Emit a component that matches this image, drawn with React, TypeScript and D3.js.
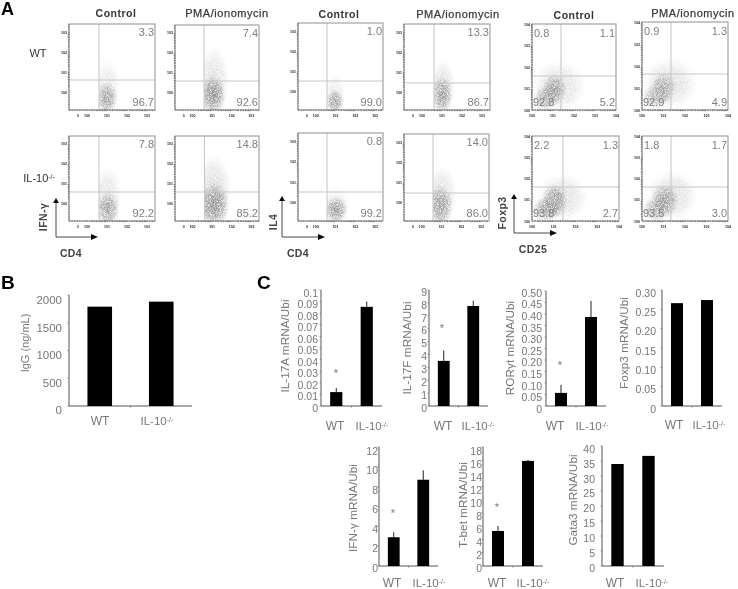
import React from "react";
import * as d3 from "d3";

// ---------- data ----------
const genotypes = ["WT", "IL-10-/-"];

const iggValues = [1790, 1880];
const iggTicks = [0, 500, 1000, 1500, 2000];

const il17aValues = [0.012, 0.0855];
const il17aErrors = [0.0035, 0.0045];
const il17aTicks = [0, 0.01, 0.02, 0.03, 0.04, 0.05, 0.06, 0.07, 0.08, 0.09, 0.1];
const il17aLabels = ["0", "0.01", "0.02", "0.03", "0.04", "0.05", "0.06", "0.07", "0.08", "0.09", "0.1"];

const il17fValues = [3.5, 7.76];
const il17fErrors = [0.8, 0.4];
const il17fTicks = [0, 1, 2, 3, 4, 5, 6, 7, 8, 9];

const rorValues = [0.057, 0.387];
const rorErrors = [0.035, 0.07];
const rorTicks = [0, 0.05, 0.1, 0.15, 0.2, 0.25, 0.3, 0.35, 0.4, 0.45, 0.5];
const rorLabels = ["0", "0.05", "0.10", "0.15", "0.20", "0.25", "0.30", "0.35", "0.40", "0.45", "0.50"];

const foxp3Values = [0.266, 0.274];
const foxp3Errors = [0, 0];
const foxp3Ticks = [0, 0.05, 0.1, 0.15, 0.2, 0.25, 0.3];
const foxp3Labels = ["0", "0.05", "0.10", "0.15", "0.20", "0.25", "0.30"];

const ifngValues = [2.9, 8.7];
const ifngErrors = [0.5, 0.95];
const ifngTicks = [0, 2, 4, 6, 8, 10, 12];

const tbetValues = [5.3, 15.9];
const tbetErrors = [0.75, 0.15];
const tbetTicks = [0, 2, 4, 6, 8, 10, 12, 14, 16, 18];

const gata3Values = [34, 36.7];
const gata3Errors = [0, 0];
const gata3Ticks = [0, 5, 10, 15, 20, 25, 30, 35, 40];

// flow plots: quadrant percentages [top-left, top-right, bottom-left, bottom-right]; "" = not shown
const flowPercents = [
  ["", "3.3", "", "96.7"], ["", "7.4", "", "92.6"], ["", "1.0", "", "99.0"], ["", "13.3", "", "86.7"],
  ["0.8", "1.1", "92.8", "5.2"], ["0.9", "1.3", "92.9", "4.9"],
  ["", "7.8", "", "92.2"], ["", "14.8", "", "85.2"], ["", "0.8", "", "99.2"], ["", "14.0", "", "86.0"],
  ["2.2", "1.3", "93.8", "2.7"], ["1.8", "1.7", "93.5", "3.0"],
];

// density blobs: [x, y, rx, ry, strength] on a 0-4 plot scale
const flowDensity: number[][][] = [
  [[1.75, 0.55, 0.5, 0.75, 0.8], [1.8, 1.0, 0.6, 1.4, 0.25]],
  [[1.8, 0.7, 0.62, 0.95, 1], [1.85, 1.4, 0.75, 1.6, 0.3]],
  [[1.74, 0.4, 0.42, 0.55, 0.85], [1.75, 0.7, 0.5, 1.0, 0.2]],
  [[1.77, 0.7, 0.5, 0.9, 0.85], [1.8, 1.1, 0.6, 1.3, 0.3]],
  [[0.65, 0.55, 0.6, 0.6, 0.7], [1.05, 0.95, 0.6, 0.75, 0.85], [1.3, 1.1, 1.3, 1.2, 0.3]],
  [[0.6, 0.6, 0.6, 0.6, 0.6], [1.0, 1.0, 0.6, 0.75, 0.7], [1.3, 1.2, 1.3, 1.2, 0.3]],
  [[1.8, 0.55, 0.55, 0.8, 0.8], [1.8, 1.1, 0.65, 1.5, 0.28]],
  [[1.85, 0.75, 0.75, 1.05, 1], [1.85, 1.4, 0.85, 1.8, 0.35]],
  [[1.78, 0.5, 0.55, 0.62, 0.9], [1.8, 0.7, 0.65, 0.9, 0.2]],
  [[1.7, 0.7, 0.6, 1.0, 0.85], [1.75, 1.2, 0.75, 1.4, 0.3]],
  [[0.65, 0.55, 0.65, 0.6, 0.8], [1.05, 0.95, 0.6, 0.8, 0.9], [1.4, 1.1, 1.2, 1.15, 0.3]],
  [[0.65, 0.55, 0.65, 0.6, 0.7], [1.05, 0.95, 0.65, 0.8, 0.85], [1.4, 1.2, 1.2, 1.2, 0.32]],
];

const flowTickValues = [0, 1, 2, 3, 4];
const flowMinor = [2, 3, 4, 5, 6, 7, 8, 9];
const flowHeadings = ["Control", "PMA/ionomycin"];

// ---------- layout ----------
// left, right, top, bottom, vertical gate, horizontal gate, CD4-style axis
const flowBoxes: [number, number, number, number, number, number, boolean][] = [
  [69, 155, 24, 110, 99, 80, true],
  [175, 259, 25, 110, 204, 81, true],
  [298, 383, 23, 110, 327, 81, true],
  [404, 490, 24, 110, 434, 83, true],
  [532, 616, 24, 110, 561, 76, false],
  [642, 728, 22, 110, 671, 74, false],
  [69, 155, 136, 221, 99, 192, true],
  [175, 259, 136, 221, 204.5, 192, true],
  [298, 383, 133, 221, 327, 192, true],
  [404, 489, 134, 221, 433, 193, true],
  [532, 619, 136, 221, 563, 187, false],
  [642, 728, 136, 221, 671, 187, false],
];
const headingPlaces: [number, number, number][] = [
  [0, 116, 17], [1, 227, 17], [0, 339, 18], [1, 458, 18], [0, 574, 19], [1, 693, 17],
];
const INK = "#777";
const SANS = "'Liberation Sans', Arial, sans-serif";

type BarSpec = {
  title: string; values: number[]; errors: number[]; ticks: number[]; tickLabels?: string[];
  max: number; axisX: number; xEnd: number; top: number; y0: number;
  labelTop: number; labelBottom: number; labelRight: number;
  titleX: number; titleY: number; wtX: number; koX: number; catY: number;
  star?: [number, number]; gs?: number; tickFs?: number;
};

const barCharts: BarSpec[] = [
  { title: "IgG (ng/mL)", values: iggValues, errors: [0, 0], ticks: iggTicks, max: 2000, axisX: 69, xEnd: 192, top: 295, y0: 406,
    labelTop: 300, labelBottom: 410, labelRight: 62, titleX: 25, titleY: 343, wtX: 100, koX: 157, catY: 425, gs: 11, tickFs: 11.5 },
  { title: "IL-17A mRNA/Ubi", values: il17aValues, errors: il17aErrors, ticks: il17aTicks, tickLabels: il17aLabels, max: 0.1, axisX: 321, xEnd: 382, top: 290, y0: 406,
    labelTop: 293, labelBottom: 408, labelRight: 318, titleX: 285, titleY: 346, wtX: 335, koX: 372, catY: 430, star: [336, 377] },
  { title: "IL-17F mRNA/Ubi", values: il17fValues, errors: il17fErrors, ticks: il17fTicks, max: 9, axisX: 429, xEnd: 488, top: 290, y0: 406,
    labelTop: 292, labelBottom: 408, labelRight: 427, titleX: 407, titleY: 348, wtX: 443, koX: 478, catY: 430, star: [442, 332] },
  { title: "RORγt mRNA/Ubi", values: rorValues, errors: rorErrors, ticks: rorTicks, tickLabels: rorLabels, max: 0.5, axisX: 546, xEnd: 606, top: 291, y0: 406,
    labelTop: 293, labelBottom: 409, labelRight: 542, titleX: 510, titleY: 348, wtX: 555, koX: 592, catY: 430, star: [560, 369] },
  { title: "Foxp3 mRNA/Ubi", values: foxp3Values, errors: foxp3Errors, ticks: foxp3Ticks, tickLabels: foxp3Labels, max: 0.3, axisX: 662, xEnd: 722, top: 290, y0: 406,
    labelTop: 293, labelBottom: 409, labelRight: 656, titleX: 624, titleY: 343, wtX: 674, koX: 709, catY: 429 },
  { title: "IFN-γ mRNA/Ubi", values: ifngValues, errors: ifngErrors, ticks: ifngTicks, max: 12, axisX: 379, xEnd: 438, top: 447, y0: 566,
    labelTop: 451, labelBottom: 568, labelRight: 378, titleX: 353, titleY: 508, wtX: 392, koX: 429, catY: 587, star: [393, 517] },
  { title: "T-bet mRNA/Ubi", values: tbetValues, errors: tbetErrors, ticks: tbetTicks, max: 18, axisX: 483, xEnd: 543, top: 447, y0: 566,
    labelTop: 451, labelBottom: 568, labelRight: 482, titleX: 463, titleY: 505, wtX: 497, koX: 533, catY: 587, star: [497, 511] },
  { title: "Gata3 mRNA/Ubi", values: gata3Values, errors: gata3Errors, ticks: gata3Ticks, max: 40, axisX: 602, xEnd: 664, top: 446, y0: 566,
    labelTop: 449, labelBottom: 568, labelRight: 595, titleX: 573, titleY: 500, wtX: 615, koX: 652, catY: 587 },
];

function Genotype({ x, y, label, fs, fill = INK }: { x: number; y: number; label: string; fs: number; fill?: string }) {
  if (label === "WT") return <text x={x} y={y} fontSize={fs} textAnchor="middle" fill={fill}>WT</text>;
  return (
    <text x={x} y={y} fontSize={fs} textAnchor="middle" fill={fill}>
      IL-10<tspan dy={-3.5} fontSize={fs * 0.62}>-/-</tspan>
    </text>
  );
}

function BarChart({ s }: { s: BarSpec }) {
  const y = d3.scaleLinear().domain([0, s.max]).range([s.y0, s.top]);
  const yl = d3.scaleLinear().domain([0, s.max]).range([s.labelBottom, s.labelTop]);
  const x = d3.scaleBand<string>().domain(genotypes).range([s.axisX, s.xEnd]).paddingInner(0.6).paddingOuter(0.3);
  const fs = s.tickFs ?? 10.5;
  const gapX = (x(genotypes[1])! + x(genotypes[0])! + x.bandwidth()) / 2;
  return (
    <g>
      {s.ticks.map((t, i) => (
        <g key={t}>
          <line x1={s.axisX - 1.5} x2={s.axisX} y1={y(t)} y2={y(t)} stroke="#777" strokeWidth={0.7} />
          <text x={s.labelRight} y={yl(t) + fs * 0.36} fontSize={fs} textAnchor="end" fill={INK}>
            {s.tickLabels ? s.tickLabels[i] : String(t)}
          </text>
        </g>
      ))}
      <line x1={s.axisX} x2={s.axisX} y1={s.top} y2={s.y0} stroke="#555" strokeWidth={1} />
      <line x1={s.axisX} x2={s.xEnd} y1={s.y0} y2={s.y0} stroke="#555" strokeWidth={1} />
      <line x1={gapX} x2={gapX} y1={s.y0} y2={s.y0 + 1.5} stroke="#555" strokeWidth={0.7} />
      {genotypes.map((g, i) => {
        const cx = x(g)! + x.bandwidth() / 2;
        return (
          <g key={g}>
            {s.errors[i] > 0 && (
              <line x1={cx} x2={cx} y1={y(s.values[i])} y2={y(s.values[i] + s.errors[i])} stroke="#222" strokeWidth={1} />
            )}
            <rect x={x(g)!} y={y(s.values[i])} width={x.bandwidth()} height={s.y0 - y(s.values[i])} fill="#000" />
            <Genotype x={i === 0 ? s.wtX : s.koX} y={s.catY} label={g} fs={i === 0 ? 12 : 11.5} />
          </g>
        );
      })}
      <text transform={`translate(${s.titleX},${s.titleY}) rotate(-90)`} textAnchor="middle" fontSize={s.gs ?? 11.8} fill={INK} dy={4}>
        {s.title}
      </text>
      {s.star && <text x={s.star[0]} y={s.star[1]} fontSize={11} textAnchor="middle" fill={INK}>*</text>}
    </g>
  );
}

function FlowPlot({ index }: { index: number }) {
  const [l, r, t, b, vg, hg, cd4] = flowBoxes[index];
  const tickDomain = cd4 ? [-0.9, 3.4] : [0, 4];
  const xT = d3.scaleLinear().domain(tickDomain).range([l, r]);
  const yT = d3.scaleLinear().domain(tickDomain).range([b, t]);
  const xC = d3.scaleLinear().domain([0, 4]).range([l, r]);
  const yC = d3.scaleLinear().domain([0, 4]).range([b, t]);
  const ticks = cd4 ? flowTickValues.slice(0, 4) : flowTickValues;
  const minors = ticks.flatMap((k) => flowMinor.map((m) => k + Math.log10(m))).filter((v) => v <= tickDomain[1]);
  const [tl, tr, bl, br] = flowPercents[index];
  const clipLeft = cd4 ? vg : l;
  const num = { fontSize: 11, fill: "#808080" };
  return (
    <g>
      <clipPath id={`flow-${index}`}><rect x={clipLeft} y={t} width={r - clipLeft} height={b - t} /></clipPath>
      <g clipPath={`url(#flow-${index})`}>
        <g filter="url(#speckle)">
          {flowDensity[index].map((d, i) => (
            <ellipse key={i} cx={xC(d[0])} cy={yC(d[1])} rx={xC(d[2]) - l} ry={b - yC(d[3])} fill="url(#cloud)" opacity={d[4]} />
          ))}
        </g>
      </g>
      <line x1={vg} x2={vg} y1={t} y2={b} stroke="#c8c8c8" strokeWidth={1.1} />
      <line x1={l} x2={r} y1={hg} y2={hg} stroke="#c8c8c8" strokeWidth={1.1} />
      <rect x={l} y={t} width={r - l} height={b - t} fill="none" stroke="#9a9a9a" strokeWidth={1.1} />
      <line x1={l} x2={r} y1={b} y2={b} stroke="#444" strokeWidth={0.7} strokeDasharray="1.5 1" />
      <line x1={l} x2={l} y1={t} y2={b} stroke="#444" strokeWidth={0.7} strokeDasharray="1.5 1" />
      {minors.map((v) => (
        <g key={v}>
          <line x1={xT(v)} x2={xT(v)} y1={b} y2={b + 1.2} stroke="#555" strokeWidth={0.5} />
          <line x1={l - 1.2} x2={l} y1={yT(v)} y2={yT(v)} stroke="#555" strokeWidth={0.5} />
        </g>
      ))}
      {ticks.map((v) => (
        <g key={v} fill="#222" fontSize={3.5} fontWeight="bold">
          <text x={xT(v)} y={b + 7} textAnchor="middle">10{v}</text>
          <text x={l - 5} y={yT(v) + 1.5} textAnchor="middle">10{v}</text>
        </g>
      ))}
      {cd4 && <text x={xT(-0.45)} y={b + 7} textAnchor="middle" fill="#222" fontSize={3.5} fontWeight="bold">0</text>}
      {tl && <text x={l + 2} y={t + 13} {...num}>{tl}</text>}
      {tr && <text x={r - 1} y={t + (cd4 ? 12 : 13)} textAnchor="end" {...num}>{tr}</text>}
      {bl && <text x={l + 1} y={b - 4} {...num}>{bl}</text>}
      {br && <text x={r - 1} y={b - 4} textAnchor="end" {...num}>{br}</text>}
    </g>
  );
}

function Arrows({ x, top, bottom, right }: { x: number; top: number; bottom: number; right: number }) {
  return (
    <g>
      <path d={`M${x},${top + 4}V${bottom}H${right - 6}`} fill="none" stroke="#333" strokeWidth={0.9} />
      <path d={`M${x - 3},${top + 5}L${x},${top}L${x + 3},${top + 5}Z`} fill="#111" />
      <path d={`M${right - 7},${bottom - 3}L${right},${bottom}L${right - 7},${bottom + 3}Z`} fill="#111" />
    </g>
  );
}

export default function App() {
  const axisLabel = { fontSize: 10.5, fontWeight: "bold" as const, fill: "#444", letterSpacing: 0.4 };
  return (
    <svg width={738} height={589} viewBox="0 0 738 589" style={{ position: "absolute", left: 0, top: 0, background: "#fff" }} fontFamily={SANS}>
      <defs>
        <radialGradient id="cloud">
          <stop offset="0%" stopColor="#777" stopOpacity={0.85} />
          <stop offset="60%" stopColor="#888" stopOpacity={0.6} />
          <stop offset="100%" stopColor="#aaa" stopOpacity={0} />
        </radialGradient>
        <filter id="speckle" x="-10%" y="-10%" width="120%" height="120%">
          <feTurbulence type="fractalNoise" baseFrequency="1.3" numOctaves={1} seed={4} result="n" />
          <feColorMatrix in="n" type="matrix" values="0 0 0 0 0  0 0 0 0 0  0 0 0 0 0  0 0 0 2.6 -0.55" result="m" />
          <feComposite in="SourceGraphic" in2="m" operator="in" />
        </filter>
        <filter id="soft" x="0" y="0" width="100%" height="100%"><feGaussianBlur stdDeviation={0.35} /></filter>
      </defs>
      <g filter="url(#soft)">
        <rect width={738} height={589} fill="#fff" />
        <text x={1} y={15} fontSize={18} fontWeight="bold" fill="#000">A</text>
        <text x={1} y={289} fontSize={19} fontWeight="bold" fill="#000">B</text>
        <text x={257} y={289} fontSize={19} fontWeight="bold" fill="#000">C</text>

        {headingPlaces.map(([h, x, y], i) => (
          <text key={i} x={x} y={y} textAnchor="middle" fontSize={h === 0 ? 10.5 : 11} letterSpacing={h === 0 ? 0.5 : 0.55}
            fontWeight={h === 0 ? "bold" : "normal"} stroke={h === 1 ? "#444" : "none"} strokeWidth={h === 1 ? 0.25 : 0} fill="#333">
            {flowHeadings[h]}
          </text>
        ))}
        <Genotype x={38} y={57} label="WT" fs={11} fill="#333" />
        <Genotype x={39} y={182} label="IL-10-/-" fs={11} fill="#333" />

        {flowBoxes.map((_, i) => <FlowPlot key={i} index={i} />)}

        <Arrows x={56} top={198} bottom={237} right={98} />
        <Arrows x={282} top={196} bottom={237} right={325} />
        <Arrows x={514} top={194} bottom={233} right={557} />
        <text transform="translate(47,217) rotate(-90)" textAnchor="middle" {...axisLabel}>IFN-γ</text>
        <text transform="translate(277,222) rotate(-90)" textAnchor="middle" {...axisLabel}>IL4</text>
        <text transform="translate(506,213) rotate(-90)" textAnchor="middle" {...axisLabel}>Foxp3</text>
        <text x={71} y={257} textAnchor="middle" {...axisLabel}>CD4</text>
        <text x={298} y={257} textAnchor="middle" {...axisLabel}>CD4</text>
        <text x={533} y={253} textAnchor="middle" {...axisLabel}>CD25</text>

        {barCharts.map((s) => <BarChart key={s.title} s={s} />)}
      </g>
    </svg>
  );
}
